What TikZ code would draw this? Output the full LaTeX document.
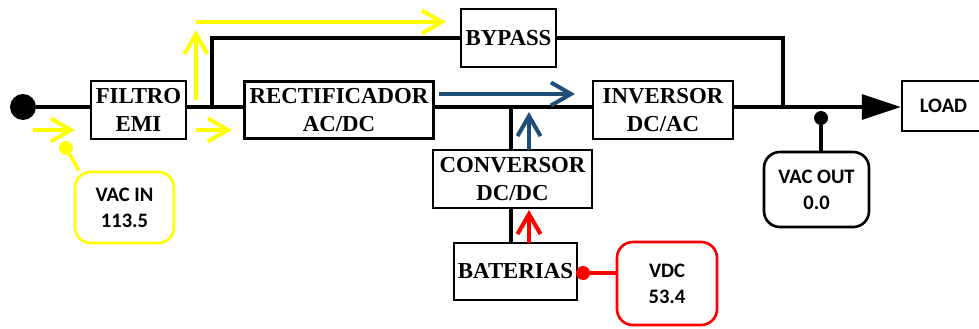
\documentclass[tikz,border=0pt]{standalone}
\usepackage{fontspec}
\setmainfont{Liberation Serif}
\newfontfamily\lblfont{Carlito}
\usetikzlibrary{arrows.meta}
\definecolor{ylw}{RGB}{255,255,0}
\definecolor{flowblue}{RGB}{31,78,121}
\tikzset{
 blk/.style={draw,line width=1.4pt,align=center,inner sep=1pt,
   font=\fontsize{13}{15.5}\selectfont\bfseries},
 lbl/.style={draw,line width=1.5pt,rounded corners=9pt,align=center,
   font=\lblfont\fontsize{11.7}{14.8}\selectfont\bfseries},
 wire/.style={line width=1.8pt},
 flow/.style={line width=2.3pt,-{Straight Barb[length=0.4cm,width=0.46cm]}},
 jdot/.style={circle,fill,inner sep=0pt,minimum size=#1},
}
\begin{document}
\begin{tikzpicture}[x=0.02cm,y=-0.02cm,>=stealth]
 \useasboundingbox (0,0) rectangle (979,328);
 \node[blk,minimum width=1.9cm,minimum height=1.16cm] (filtro) at (138.5,110) {FILTRO\\EMI};
 \node[blk,minimum width=3.78cm,minimum height=1.14cm] (rect) at (339,110) {RECTIFICADOR\\AC/DC};
 \node[blk,minimum width=1.9cm,minimum height=1.16cm] (bypass) at (508.5,38) {BYPASS};
 \node[blk,minimum width=2.8cm,minimum height=1.16cm] (inv) at (663,110) {INVERSOR\\DC/AC};
 \node[blk,minimum width=3.18cm,minimum height=1.16cm] (conv) at (512.5,179) {CONVERSOR\\DC/DC};
 \node[blk,minimum width=2.46cm,minimum height=1.14cm] (bat) at (515.5,271.5) {BATERIAS};
 \node[blk,minimum width=1.66cm,minimum height=1cm,font=\lblfont\fontsize{11.7}{14.8}\selectfont\bfseries] (load) at (943.5,106) {LOAD};
 \node[lbl,draw=ylw,minimum width=1.98cm,minimum height=1.42cm] (vacin) at (124.5,207.5) {VAC IN\\113.5};
 \node[lbl,minimum width=2.1cm,minimum height=1.5cm] (vacout) at (816.5,189.5) {VAC OUT\\0.0};
 \node[lbl,draw=red,minimum width=2cm,minimum height=1.66cm] (vdc) at (667,283.5) {VDC\\53.4};
 \node[jdot=0.52cm] (src) at (23,107) {};
 \node[jdot=0.28cm,ylw] (indot) at (66,148) {};
 \node[jdot=0.28cm,red] (bdot) at (583,273) {};
 \node[jdot=0.28cm] (odot) at (821,118) {};
 \coordinate (jbyp) at (212,107);
 \coordinate (jconv) at (511,107);
 \coordinate (jout) at (783,107);
 % main path
 \draw[wire] (src) -- (src -| filtro.west);
 \draw[wire] (filtro.east |- src) -- (rect.west |- src);
 \draw[wire] (rect.east |- src) -- (inv.west |- src);
 \draw[wire,-{Triangle[length=0.78cm,width=0.5cm]}] (inv.east |- src) -- (load.west |- src);
 \draw[wire] (jbyp) |- (bypass.west);
 \draw[wire] (bypass.east) -| (jout);
 \draw[wire] (jconv) -- (jconv |- conv.north);
 \draw[wire] (jconv |- conv.south) -- (jconv |- bat.north);
 \draw[wire] (odot) -- (odot |- vacout.north);
 \draw[ylw,line width=2pt] (indot) -- (vacin.141);
 \draw[red,line width=2pt] (bdot) -- (bdot -| vdc.west);
 % flows
 \coordinate (y1a) at (33,130);   \coordinate (y1b) at (75,130);
 \coordinate (y2a) at (196,130);  \coordinate (y2b) at (232,130);
 \coordinate (y3a) at (196,100);  \coordinate (y3b) at (196,30);
 \coordinate (y4a) at (196,22);   \coordinate (y4b) at (446,22);
 \coordinate (b1a) at (439,94);   \coordinate (b1b) at (575,94);
 \coordinate (b2a) at (529,150);  \coordinate (b2b) at (529,112);
 \coordinate (r1a) at (529,243);  \coordinate (r1b) at (529,210);
 \draw[flow,ylw] (y1a) -- (y1b);
 \draw[flow,ylw] (y2a) -- (y2b);
 \draw[flow,ylw] (y3a) -- (y3b);
 \draw[flow,ylw] (y4a) -- (y4b);
 \draw[flow,flowblue] (b1a) -- (b1b);
 \draw[flow,flowblue] (b2a) -- (b2b);
 \draw[flow,red] (r1a) -- (r1b);
\end{tikzpicture}
\end{document}
